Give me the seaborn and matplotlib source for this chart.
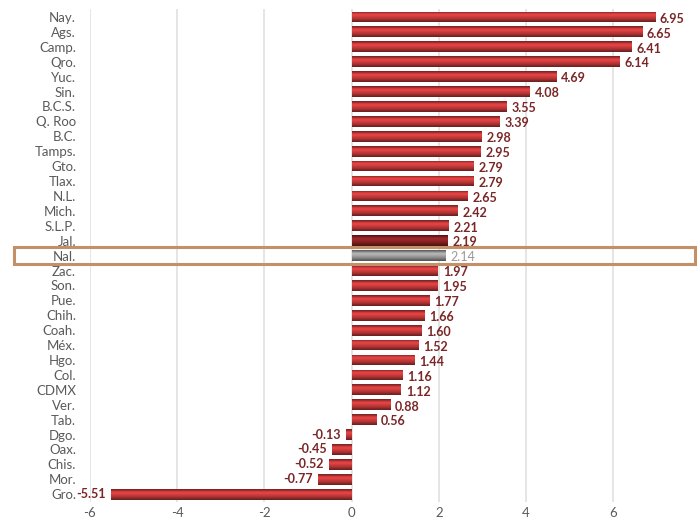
import numpy as np
import pandas as pd
import seaborn as sns
import matplotlib
matplotlib.use('Agg')
import matplotlib.pyplot as plt
from matplotlib.patches import Rectangle

states = ['Nay.', 'Ags.', 'Camp.', 'Qro.', 'Yuc.', 'Sin.', 'B.C.S.', 'Q. Roo', 'B.C.',
          'Tamps.', 'Gto.', 'Tlax.', 'N.L.', 'Mich.', 'S.L.P.', 'Jal.', 'Nal.', 'Zac.',
          'Son.', 'Pue.', 'Chih.', 'Coah.', 'Méx.', 'Hgo.', 'Col.', 'CDMX', 'Ver.',
          'Tab.', 'Dgo.', 'Oax.', 'Chis.', 'Mor.', 'Gro.']
values = [6.95, 6.65, 6.41, 6.14, 4.69, 4.08, 3.55, 3.39, 2.98,
          2.95, 2.79, 2.79, 2.65, 2.42, 2.21, 2.19, 2.14, 1.97,
          1.95, 1.77, 1.66, 1.60, 1.52, 1.44, 1.16, 1.12, 0.88,
          0.56, -0.13, -0.45, -0.52, -0.77, -5.51]
xticks = [-6, -4, -2, 0, 2, 4, 6]

national = 'Nal.'
dark_one = 'Jal.'

df = pd.DataFrame({'state': states, 'value': values})

sns.set_style('white')
plt.rcParams['font.family'] = ['Lato', 'DejaVu Sans']

red = '#c63a3b'
palette = {s: red for s in states}
palette[national] = '#9c9c9c'
palette[dark_one] = '#8a2222'

fig = plt.figure(figsize=(6.97, 5.27), dpi=100)
ax = fig.add_axes([0.129, 0.048, 0.871, 0.934])

sns.barplot(data=df, x='value', y='state', hue='state', palette=palette,
            legend=False, width=0.72, ax=ax, zorder=3, saturation=1)

# cylinder-like shading on each bar
shade = np.array([0.6, 0.95, 1.2, 1.12, 1.0, 0.9, 0.75, 0.55]).reshape(-1, 1)
for patch, s in zip(ax.patches, states):
    base = np.array(matplotlib.colors.to_rgb(palette[s]))
    img = np.clip(shade[:, :, None] * base[None, None, :], 0, 1)
    x0, y0 = patch.get_x(), patch.get_y()
    w, h = patch.get_width(), patch.get_height()
    im = ax.imshow(img, extent=(x0, x0 + w, y0 + h, y0), aspect='auto',
                   interpolation='bicubic', zorder=4)
    im.set_clip_path(patch)
    patch.set_edgecolor('none')

for i, (s, v) in enumerate(zip(states, values)):
    col = '#9a9a9a' if s == national else '#7a2626'
    wt = 'normal' if s == national else 'bold'
    if v >= 0:
        ax.text(v + 0.12, i + 0.12, f'{v:.2f}', ha='left', va='center',
                fontsize=9, color=col, fontweight=wt, zorder=5)
    else:
        ax.text(v - 0.12, i, f'{v:.2f}', ha='right', va='center',
                fontsize=9, color=col, fontweight=wt, zorder=5)

ax.set_xlim(-6, 7.92)
ax.set_ylim(len(states) - 0.5, -0.5)
ax.set_xticks(xticks)
ax.set_xticklabels([str(t) for t in xticks])
ax.xaxis.grid(True, color='#e0e0e0', linewidth=1.2, zorder=0)
ax.set_axisbelow(True)
sns.despine(ax=ax, left=True, bottom=True, top=True, right=True)
ax.tick_params(axis='both', length=0, labelsize=9.5, colors='#5a5a5a', pad=4)
ax.tick_params(axis='y', pad=10)
ax.set_xlabel('')
ax.set_ylabel('')

# highlight box around national row
k = states.index(national)
rect = Rectangle((-0.125, k - 0.58), 1.122, 1.16, transform=ax.get_yaxis_transform(),
                 fill=False, edgecolor='#c49068', linewidth=2.2, clip_on=False, zorder=6)
ax.add_patch(rect)

fig.savefig('out.png', dpi=100)
